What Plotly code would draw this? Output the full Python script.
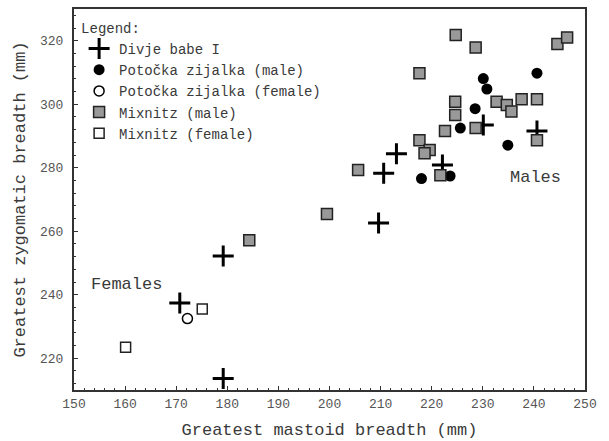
import plotly.graph_objects as go

# Divje babe I
db_x = [230.1, 240.6, 222.1, 213.1, 210.6, 209.6, 179.2, 170.7, 179.2]
db_y = [293.5, 291.6, 280.9, 284.4, 278.3, 262.6, 252.2, 237.4, 213.6]

# Potočka zijalka (male)
pm_x = [230.1, 230.8, 240.6, 228.5, 225.6, 234.9, 218.0, 223.6]
pm_y = [308.1, 304.8, 309.8, 298.6, 292.5, 287.1, 276.6, 277.4]

# Potočka zijalka (female)
pf_x = [172.2]
pf_y = [232.5]

# Mixnitz (male)
mm_x = [224.7, 228.6, 244.6, 246.5, 217.6, 224.6, 224.6, 232.7, 234.7, 235.6,
        237.6, 240.6, 222.6, 228.6, 240.6, 217.6, 219.6, 218.6, 221.7, 205.6,
        199.5, 184.3]
mm_y = [321.8, 317.9, 319.0, 321.0, 309.8, 300.8, 296.6, 300.8, 299.8, 297.7,
        301.6, 301.6, 291.6, 292.5, 288.7, 288.7, 285.6, 284.6, 277.6, 279.3,
        265.4, 257.2]

# Mixnitz (female)
mf_x = [175.1, 160.1]
mf_y = [235.5, 223.5]

FONT = "Liberation Mono, Courier New, monospace"
TXT = "#3a3a3a"

fig = go.Figure()
fig.add_trace(go.Scatter(x=db_x, y=db_y, mode="markers", name="Divje babe I",
                         marker=dict(symbol="cross-thin", size=15,
                                     line=dict(width=3, color="black"), color="black")))
fig.add_trace(go.Scatter(x=pm_x, y=pm_y, mode="markers", name="Potočka zijalka (male)",
                         marker=dict(symbol="circle", size=11, color="black",
                                     line=dict(width=0))))
fig.add_trace(go.Scatter(x=pf_x, y=pf_y, mode="markers", name="Potočka zijalka (female)",
                         marker=dict(symbol="circle", size=10, color="white",
                                     line=dict(width=1.5, color="black"))))
fig.add_trace(go.Scatter(x=mm_x, y=mm_y, mode="markers", name="Mixnitz (male)",
                         marker=dict(symbol="square", size=11, color="#999999",
                                     line=dict(width=1.5, color="#222222"))))
fig.add_trace(go.Scatter(x=mf_x, y=mf_y, mode="markers", name="Mixnitz (female)",
                         marker=dict(symbol="square", size=10, color="white",
                                     line=dict(width=1.5, color="#222222"))))

fig.add_annotation(x=240.4, y=276.9, text="Males", showarrow=False,
                   font=dict(family=FONT, size=17, color=TXT))
fig.add_annotation(x=160.3, y=243.3, text="Females", showarrow=False,
                   font=dict(family=FONT, size=17, color=TXT))

axis_common = dict(
    showline=True, linecolor="#333333", linewidth=2, mirror=True,
    ticks="inside", ticklen=4, tickwidth=1, tickcolor="#333333",
    showgrid=False, zeroline=False, automargin=False,
    tickfont=dict(family=FONT, size=13, color="#555555"),
)

fig.update_xaxes(range=[150, 250], dtick=10, tick0=150,
                 minor=dict(dtick=2, ticks="inside", ticklen=2, tickcolor="#333333", showgrid=False),
                 title=dict(text="Greatest mastoid breadth (mm)", standoff=13,
                            font=dict(family=FONT, size=17, color=TXT)),
                 **axis_common)
fig.update_yaxes(range=[210, 330], dtick=20, tick0=220,
                 ticklabelstandoff=6,
                 minor=dict(dtick=4, ticks="inside", ticklen=2, tickcolor="#333333", showgrid=False),
                 title=dict(text="Greatest zygomatic breadth (mm)", standoff=10,
                            font=dict(family=FONT, size=17, color=TXT)),
                 **axis_common)

fig.update_layout(
    width=609, height=441,
    margin=dict(l=74, r=24, t=9, b=51),
    paper_bgcolor="white", plot_bgcolor="white",
    showlegend=True,
    legend=dict(x=0.01, y=0.985, xanchor="left", yanchor="top",
                bgcolor="rgba(255,255,255,0)",
                title=dict(text="Legend:", font=dict(family=FONT, size=14, color=TXT)),
                font=dict(family=FONT, size=14, color=TXT)),
)

fig.write_html("out.html", config={"displayModeBar": False},
               post_script="document.body.style.margin='0';document.body.style.overflow='hidden';")
